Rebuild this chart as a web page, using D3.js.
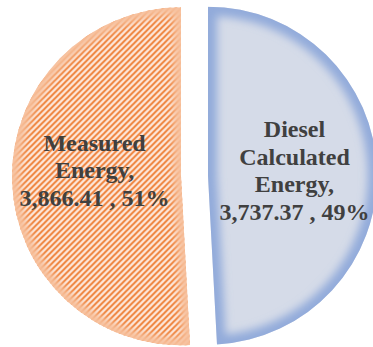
<!DOCTYPE html>
<html>
<head>
<meta charset="utf-8">
<script src="https://cdn.jsdelivr.net/npm/d3@7"></script>
<style>
  html, body { margin: 0; padding: 0; background: #ffffff; }
  svg { display: block; }
</style>
</head>
<body>
<svg id="chart" width="373" height="347"></svg>
<script>
// Energy totals, in the order the slices run clockwise from 12 o'clock
const categories = ["Diesel Calculated Energy", "Measured Energy"];
const values = [3737.37, 3866.41];

const width = 373, height = 347;
const cx = 194.5, cy = 176;
const radius = 169;
const explode = 13.5;
const labelRadius = 86.5;
const lineHeight = 27.5;

const styles = [
  { fill: "#d5dbe8", glow: "#86a2d8", glowOpacity: 0.85, glowWidth: 18, glowBlur: 4.5 },
  { fill: "url(#hatch)", glow: "#f7c09c", glowOpacity: 0.95, glowWidth: 15, glowBlur: 3.8 }
];

const svg = d3.select("#chart");
const defs = svg.append("defs");

// wide upward diagonal hatch for the measured slice
const hatch = defs.append("pattern")
  .attr("id", "hatch")
  .attr("patternUnits", "userSpaceOnUse")
  .attr("width", 6)
  .attr("height", 6);
hatch.append("rect").attr("width", 6).attr("height", 6).attr("fill", "#fde7da");
hatch.append("path")
  .attr("d", "M0,6 L6,0 M-1,1 L1,-1 M5,7 L7,5")
  .attr("stroke", "#ee7d33")
  .attr("stroke-width", 1.9);

const pie = d3.pie().sort(null).value(d => d);
const arcs = pie(values);
const total = d3.sum(values);

const arc = d3.arc().innerRadius(0).outerRadius(radius);
const labelArc = d3.arc().innerRadius(labelRadius).outerRadius(labelRadius);

const fmtValue = d3.format(",.2f");
const fmtPct = d3.format(".0%");

const root = svg.append("g").attr("transform", `translate(${cx},${cy})`);

arcs.forEach((a, i) => {
  const mid = (a.startAngle + a.endAngle) / 2;
  const dx = Math.sin(mid) * explode;
  const dy = -Math.cos(mid) * explode;
  const g = root.append("g").attr("transform", `translate(${dx},${dy})`);
  const d = arc(a);
  const s = styles[i];

  // soft inner glow along the slice edges
  const blurId = "edgeBlur" + i;
  defs.append("filter").attr("id", blurId)
    .attr("x", "-20%").attr("y", "-20%").attr("width", "140%").attr("height", "140%")
    .append("feGaussianBlur").attr("stdDeviation", s.glowBlur);

  // clip lives in the slice's own user space
  const clipId = "clip" + i;
  defs.append("clipPath").attr("id", clipId).append("path").attr("d", d);

  g.append("path").attr("d", d).attr("fill", s.fill);

  g.append("g")
    .attr("clip-path", `url(#${clipId})`)
    .append("path")
    .attr("d", d)
    .attr("fill", "none")
    .attr("stroke", s.glow)
    .attr("stroke-opacity", s.glowOpacity)
    .attr("stroke-width", s.glowWidth)
    .attr("filter", `url(#${blurId})`);
});

// data labels: category words on separate lines, then value and share
const labels = root.append("g")
  .attr("font-family", "'Liberation Serif', 'Times New Roman', serif")
  .attr("font-weight", "bold")
  .attr("font-size", "24px")
  .attr("fill", "#404040")
  .attr("text-anchor", "middle");

arcs.forEach((a, i) => {
  const mid = (a.startAngle + a.endAngle) / 2;
  const [lx] = labelArc.centroid(a);
  const x = lx + Math.sin(mid) * explode;
  const words = categories[i].split(" ");
  words[words.length - 1] += ",";
  const lines = words.concat([`${fmtValue(values[i])} , ${fmtPct(values[i] / total)}`]);
  const n = lines.length;
  const t = labels.append("text");
  lines.forEach((line, j) => {
    t.append("tspan")
      .attr("x", x)
      .attr("y", 2.4 + (j - (n - 1) / 2) * lineHeight)
      .text(line);
  });
});
</script>
</body>
</html>
